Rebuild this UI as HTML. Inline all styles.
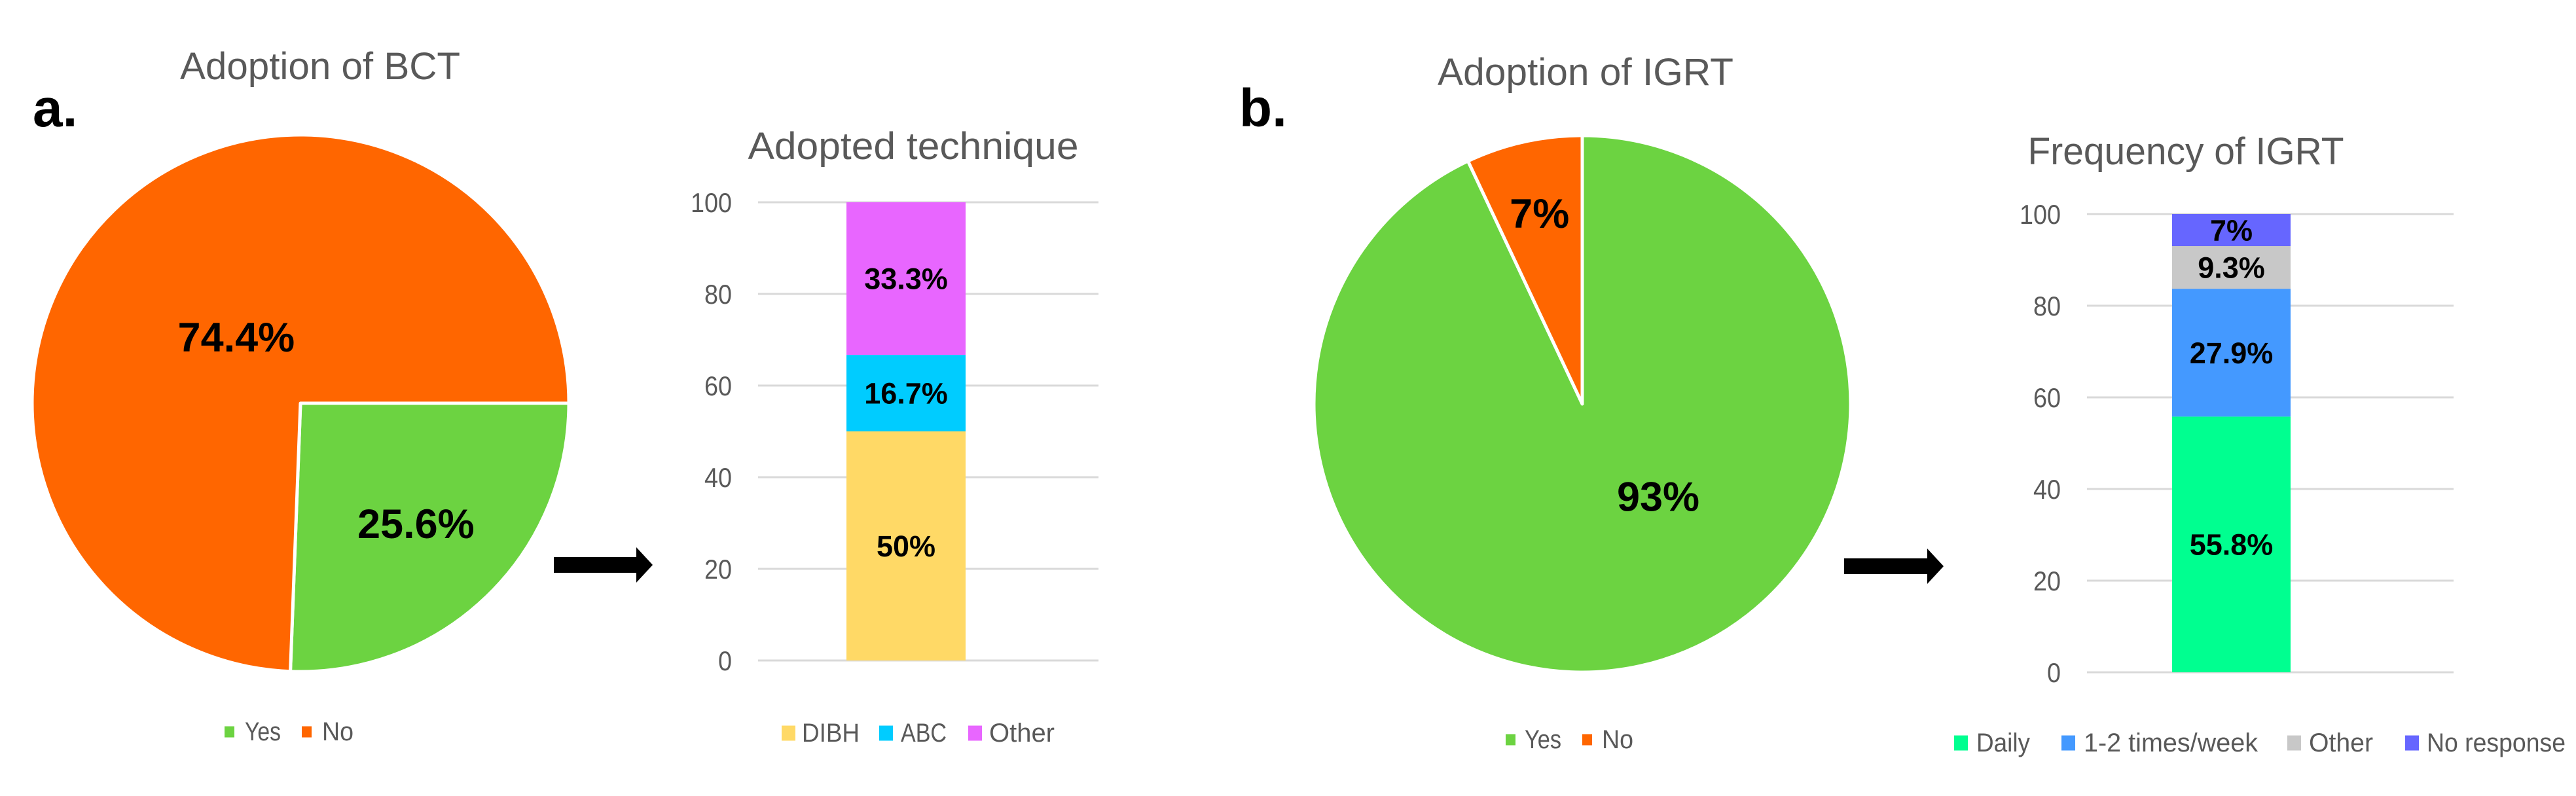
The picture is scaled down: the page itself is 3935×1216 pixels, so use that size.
<!DOCTYPE html>
<html><head><meta charset="utf-8"><style>
html,body{margin:0;padding:0;background:#fff;}
svg{display:block;font-family:"Liberation Sans",sans-serif;}
</style></head><body>
<svg id="root" width="3935" height="1216" viewBox="0 0 3935 1216">
<rect width="3935" height="1216" fill="#fff"/>
<text x="50" y="193" font-size="82" font-weight="bold" fill="#000">a.</text>
<text x="1893" y="193" font-size="82" font-weight="bold" fill="#000">b.</text>
<g><polygon points="846,851 972,851 972,836 997,863 972,890 972,875 846,875" fill="#000"/></g>
<g><polygon points="2817,853 2944,853 2944,838 2969,865 2944,892 2944,877 2817,877" fill="#000"/></g>
<g id="charts"></g>
</svg>
<script>
// ---- data ----
const pieACategories = ["Yes", "No"];
const pieAValues = [25.6, 74.4];
const pieALabels = ["25.6%", "74.4%"];
const pieBCategories = ["Yes", "No"];
const pieBValues = [93, 7];
const pieBLabels = ["93%", "7%"];
const barACategories = ["DIBH", "ABC", "Other"];
const barAValues = [50, 16.7, 33.3];
const barALabels = ["50%", "16.7%", "33.3%"];
const barBCategories = ["Daily", "1-2 times/week", "Other", "No response"];
const barBValues = [55.8, 27.9, 9.3, 7];
const barBLabels = ["55.8%", "27.9%", "9.3%", "7%"];
const yTicks = [0, 20, 40, 60, 80, 100];

const NS = "http://www.w3.org/2000/svg";
const root = document.getElementById("charts");
function mk(tag, attrs, parent) {
  const e = document.createElementNS(NS, tag);
  for (const k in attrs) e.setAttribute(k, attrs[k]);
  (parent || root).appendChild(e);
  return e;
}
function txt(x, y, s, fs, opts, parent) {
  const t = mk("text", Object.assign({x: x, y: y, "font-size": fs, fill: "#595959"}, opts || {}), parent);
  t.textContent = s;
  return t;
}
function fitW(t, w) {
  t.setAttribute("textLength", w);
  t.setAttribute("lengthAdjust", "spacingAndGlyphs");
}
const slug = s => s.toLowerCase().replace(/[^a-z0-9]+/g, '-');

function legend(g, name, cats, colors, sqX, txX, txW, y, sq) {
  cats.forEach((c, i) => {
    const r = mk("rect", {x: sqX[i], y: y - sq / 2, width: sq, height: sq + 2, fill: colors[i]}, g);
    
    
    const t = txt(txX[i], y + 14, c, 40, {}, g);
    
    
    fitW(t, txW[i]);
  });
}

function pie(cfg) {
  const g = mk("g", {});
  
  
  const t = txt(cfg.titleX, cfg.titleY, cfg.title, 58, {"text-anchor": "middle"}, g);
  
  
  fitW(t, cfg.titleW);
  const total = cfg.values.reduce((a, b) => a + b, 0);
  let a0 = cfg.start;
  cfg.values.forEach((v, i) => {
    const a1 = a0 + v / total * 360;
    const r0 = (a0 - 90) * Math.PI / 180, r1 = (a1 - 90) * Math.PI / 180;
    const x0 = cfg.cx + cfg.r * Math.cos(r0), y0 = cfg.cy + cfg.r * Math.sin(r0);
    const x1 = cfg.cx + cfg.r * Math.cos(r1), y1 = cfg.cy + cfg.r * Math.sin(r1);
    const large = (a1 - a0) > 180 ? 1 : 0;
    const p = mk("path", {d: `M${cfg.cx},${cfg.cy} L${x0},${y0} A${cfg.r},${cfg.r} 0 ${large} 1 ${x1},${y1} Z`, fill: cfg.colors[i], stroke: "#fff", "stroke-width": 5, "stroke-linejoin": "round"}, g);
    
    
    const am = ((a0 + a1) / 2 + cfg.labelOff[i] - 90) * Math.PI / 180;
    const lr = cfg.r * cfg.labelR[i];
    const l = txt(cfg.cx + lr * Math.cos(am), cfg.cy + lr * Math.sin(am) + 23, cfg.labels[i], 63, {"text-anchor": "middle", "font-weight": "bold", fill: "#000"}, g);
    
    
    a0 = a1;
  });
  legend(g, cfg.name, cfg.cats, cfg.colors, cfg.legSq, cfg.legTx, cfg.legW, cfg.legY, 15);
}

function bar(cfg) {
  const g = mk("g", {});
  
  
  const y = v => cfg.y0 - v * (cfg.y0 - cfg.y100) / 100;
  const t = txt(cfg.titleX, cfg.titleY, cfg.title, 58, {"text-anchor": "middle"}, g);
  
  
  fitW(t, cfg.titleW);
  yTicks.forEach(v => {
    const ln = mk("line", {x1: cfg.gx0, x2: cfg.gx1, y1: y(v), y2: y(v), stroke: "#d9d9d9", "stroke-width": 3}, g);
    
    
    const tl = txt(cfg.tickX, y(v) + 15, String(v), 42, {"text-anchor": "end"}, g);
    
    
    fitW(tl, String(v).length * 21);
  });
  let acc = 0;
  cfg.values.forEach((v, i) => {
    const r = mk("rect", {x: cfg.bx0, width: cfg.bx1 - cfg.bx0, y: y(acc + v), height: y(acc) - y(acc + v), fill: cfg.colors[i]}, g);
    
    
    const l = txt((cfg.bx0 + cfg.bx1) / 2, y(acc + v / 2) + 16, cfg.labels[i], 45, {"text-anchor": "middle", "font-weight": "bold", fill: "#000"}, g);
    
    
    acc += v;
  });
  legend(g, cfg.name, cfg.cats, cfg.colors, cfg.legSq, cfg.legTx, cfg.legW, cfg.legY, 21);
}

pie({name: "pie-bct", title: "Adoption of BCT", titleX: 489, titleY: 121, titleW: 428, cx: 459, cy: 616, r: 410, start: 90,
  values: pieAValues, labels: pieALabels, cats: pieACategories, colors: ["#6cd341", "#ff6600"],
  labelR: [0.62, 0.345], labelOff: [0, 0], legSq: [343, 461], legTx: [374, 492], legW: [55, 48], legY: 1117});
pie({name: "pie-igrt", title: "Adoption of IGRT", titleX: 2422, titleY: 130, titleW: 452, cx: 2417, cy: 617, r: 410, start: 0,
  values: pieBValues, labels: pieBLabels, cats: pieBCategories, colors: ["#6cd341", "#ff6600"],
  labelR: [0.444, 0.73], labelOff: [-27, 0], legSq: [2300, 2417], legTx: [2329, 2447], legW: [56, 48], legY: 1129});
bar({name: "bar-technique", title: "Adopted technique", titleX: 1395, titleY: 243, titleW: 505, y0: 1009, y100: 309,
  gx0: 1158, gx1: 1678, bx0: 1293, bx1: 1475, tickX: 1118,
  values: barAValues, labels: barALabels, cats: barACategories, colors: ["#ffd966", "#00ccff", "#e866ff"],
  legSq: [1194, 1343, 1479], legTx: [1225, 1376, 1511], legW: [88, 70, 100], legY: 1119});
bar({name: "bar-frequency", title: "Frequency of IGRT", titleX: 3339, titleY: 251, titleW: 483, y0: 1027, y100: 327,
  gx0: 3188, gx1: 3748, bx0: 3318, bx1: 3499, tickX: 3148,
  values: barBValues, labels: barBLabels, cats: barBCategories, colors: ["#00ff90", "#4499ff", "#c8c8c8", "#6666ff"],
  legSq: [2985, 3149, 3494, 3674], legTx: [3019, 3183, 3527, 3707], legW: [82, 266, 98, 212], legY: 1134});
</script>
</body></html>
